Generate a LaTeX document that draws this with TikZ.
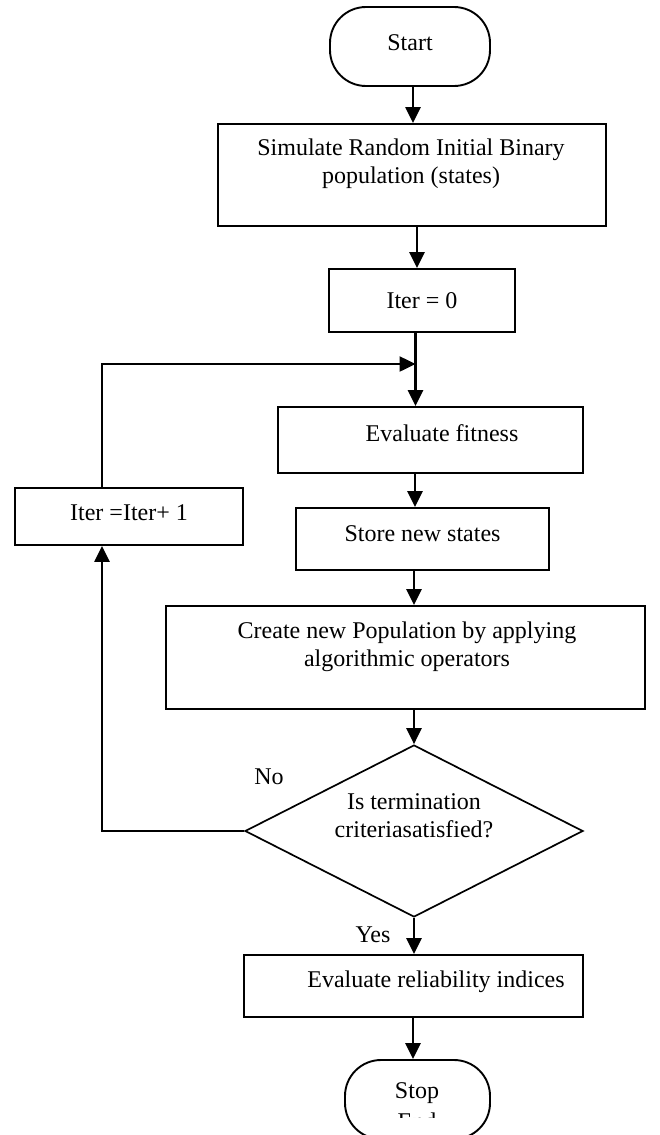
\documentclass[tikz,border=0pt]{standalone}
\usepackage{fontspec}
\setmainfont{Liberation Serif}
\usetikzlibrary{arrows.meta,shapes.geometric}
\tikzset{
  box/.style 2 args={draw, line width=1.9pt, rectangle, minimum width=#1pt, minimum height=#2pt, inner sep=0pt, font=\fontsize{24}{28}\selectfont, align=center},
  term/.style={draw, line width=1.9pt, rectangle, rounded corners=36pt, minimum width=#1pt, minimum height=79pt, inner sep=0pt, font=\fontsize{24}{28}\selectfont},
  txt/.style={font=\fontsize{24}{28}\selectfont, align=center, inner sep=0pt},
  arr/.style={line width=2.5pt, -{Triangle[length=16pt,width=15pt]}},
}
\begin{document}
\begin{tikzpicture}[x=1pt,y=-1pt]
\useasboundingbox (0,0) rectangle (660,1135);
\clip (0,0) rectangle (660,1135);

\node[term=160, label={[txt,yshift=4pt]center:Start}] (start) at (410,46.5) {};
\node[box={388}{102}, label={[txt,yshift=11pt,xshift=-1pt]center:{Simulate Random Initial Binary\\population (states)}}] (sim) at (412,175) {};
\node[box={186}{63}] (iter0) at (422,300.5) {Iter = 0};
\node[box={305}{66}, label={[txt,yshift=7pt,xshift=11.5pt]center:Evaluate fitness}] (eval) at (430.5,440) {};
\node[box={253}{62}, label={[txt,yshift=5pt]center:Store new states}] (store) at (422.5,539) {};
\node[box={479}{103}, label={[txt,yshift=10.5pt,xshift=1.5pt]center:{Create new Population by applying\\algorithmic operators}}] (create) at (405.5,657.5) {};
\node[draw, line width=1.7pt, diamond, aspect=1.965, minimum width=338pt, minimum height=172pt, inner sep=0pt, label={[txt,yshift=15pt]center:{Is termination\\criteriasatisfied?}}] (dec) at (414,831) {};
\node[box={228}{57}, label={[txt,yshift=3.5pt]center:Iter =Iter+ 1}] (inc) at (129,516.5) {};
\node[box={339}{62}, label={[txt,yshift=4pt,xshift=22.5pt]center:Evaluate reliability indices}] (rel) at (413.5,986) {};
\node[term=145] (stop) at (417.5,1099.5) {};
\node[txt] (stoptxt) at (417,1093) {Stop};
\begin{scope}
  \clip (340,1100) rectangle (500,1117);
  \node[txt] (endtxt) at (417,1121) {End};
\end{scope}

\node[txt] (no) at (269,777) {No};
\node[txt] (yes) at (373,935) {Yes};

\coordinate (merge) at (415.5,364);
\coordinate (lpt) at (102,364);
\coordinate (lpb) at (dec.west -| lpt);

\draw[arr] (start.south -| 413,0) -- (sim.north -| 413,0);
\draw[arr] (sim.south -| 417,0) -- (iter0.north -| 417,0);
\draw[arr] (iter0.south -| 415.5,0) -- (eval.north -| 415.5,0);
\draw[arr] (inc.north -| lpt) -- (lpt) -- (merge);
\draw[arr] (eval.south -| 415,0) -- (store.north -| 415,0);
\draw[arr] (store.south -| 414,0) -- (create.north -| 414,0);
\draw[arr] (create.south -| dec.north) -- (dec.north);
\draw[arr] (dec.south) -- (rel.north -| dec.south);
\draw[arr] (rel.south -| 413,0) -- (stop.north -| 413,0);
\draw[arr] (dec.west) -- (lpb) -- (inc.south -| lpb);
\end{tikzpicture}
\end{document}
